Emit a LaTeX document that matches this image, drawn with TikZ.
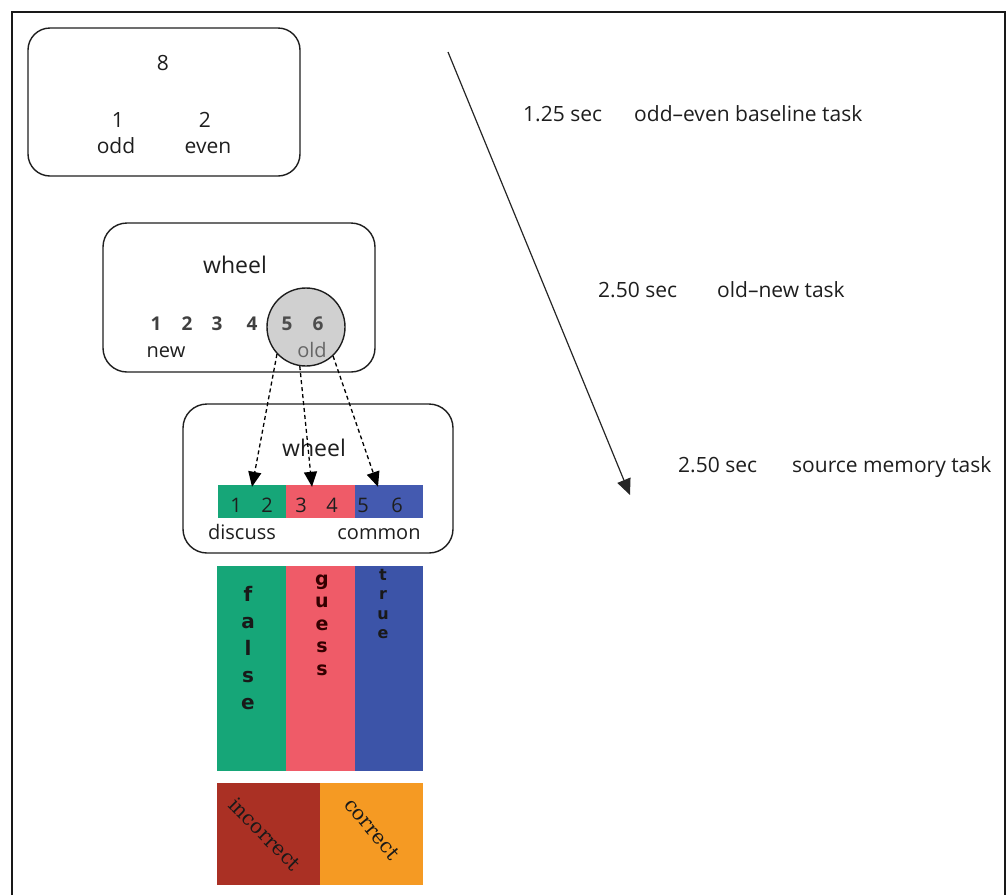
\documentclass[tikz,border=0pt]{standalone}
\usepackage{fontspec}
\setmainfont{Open Sans}
\newfontfamily\lucida{DejaVu Sans}
\newfontfamily\lserif{DejaVu Serif}
\usetikzlibrary{arrows.meta,calc}
\definecolor{cgreen}{RGB}{22,166,120}
\definecolor{cred}{RGB}{239,91,104}
\definecolor{cblue}{RGB}{68,90,176}
\definecolor{cblueT}{RGB}{60,84,168}
\definecolor{cdark}{RGB}{170,48,36}
\definecolor{corange}{RGB}{245,154,35}
\definecolor{cgray}{RGB}{208,208,208}
\definecolor{ink}{RGB}{30,30,30}
\tikzset{
  rbox/.style={draw=ink, line width=1.4pt, rounded corners=24pt, inner sep=0pt},
  txt/.style={font=\fontsize{20}{20}\selectfont, text=ink, inner sep=0pt, anchor=base},
  num/.style={font=\bfseries\fontsize{19}{19}\selectfont, text=ink!85, inner sep=0pt, anchor=base},
  rtxt/.style={font=\fontsize{21}{21}\selectfont, text=ink, inner sep=0pt, anchor=base west},
  seg/.style={draw=none, inner sep=0pt, minimum width=#1, minimum height=33pt},
  tall/.style={draw=none, inner sep=0pt, minimum width=#1, minimum height=205pt},
  sq/.style={draw=none, inner sep=0pt, minimum width=103pt, minimum height=102pt},
  vlet/.style={font=\lucida\bfseries, text=black!90, inner sep=0pt, align=center},
  rot/.style={font=\lserif\fontsize{20}{20}\selectfont, text=black!90, inner sep=0pt},
  dasharrow/.style={draw=black, line width=1.3pt, dash pattern=on 4pt off 3pt, -{Triangle[length=15pt,width=13pt]}},
}
\begin{document}
\begin{tikzpicture}[x=1pt,y=-1pt]
\useasboundingbox (0,0) rectangle (1007,895);
% frame
\draw[line width=2.2pt, black!90] (12,895) -- (12,12) -- (1005,12) -- (1005,895);

% box 1
\node[rbox, minimum width=272pt, minimum height=148pt, rounded corners=22pt] (box1) at (164,102) {};
\node[txt, font=\fontsize{21}{21}\selectfont] (eight) at (163,70) {8};
\node[txt, font=\fontsize{21}{21}\selectfont] (one) at (118,127) {1};
\node[txt, font=\fontsize{21}{21}\selectfont] (two) at (205,127) {2};
\node[txt, font=\fontsize{21}{21}\selectfont] (odd) at (116,153) {odd};
\node[txt, font=\fontsize{21}{21}\selectfont] (even) at (208,153) {even};

% box 2
\node[rbox, minimum width=272pt, minimum height=149pt] (box2) at (239,297.5) {};
\node[draw=ink, line width=1.4pt, fill=cgray, circle, minimum size=78pt, inner sep=0pt] (circ) at (306,327) {};
\node[txt, font=\fontsize{23}{23}\selectfont] (w2) at (235,273) {wheel};
\node[num] (n1) at (156,330) {1};
\node[num] (n2) at (187,330) {2};
\node[num] (n3) at (217,330) {3};
\node[num] (n4) at (252,330) {4};
\node[num, text=black!70] (n5) at (287,330) {5};
\node[num, text=black!70] (n6) at (318,330) {6};
\node[txt] (new) at (166,357) {new};
\node[txt, text=black!60] (old) at (312,357) {old};

% box 3
\node[rbox, minimum width=270pt, minimum height=149pt] (box3) at (318,478.5) {};
\node[txt, font=\fontsize{23}{23}\selectfont] (w3) at (314,456) {wheel};
\node[seg=68pt, fill=cgreen] (s1) at (252,501.5) {};
\node[seg=69pt, fill=cred] (s2) at (320.5,501.5) {};
\node[seg=68pt, fill=cblue] (s3) at (389,501.5) {};
\node[txt] (m1) at (236,512) {1};
\node[txt] (m2) at (267,512) {2};
\node[txt] (m3) at (301,512) {3};
\node[txt] (m4) at (332,512) {4};
\node[txt] (m5) at (363,512) {5};
\node[txt] (m6) at (397,512) {6};
\node[txt] (discuss) at (242,539) {discuss};
\node[txt] (common) at (379,539) {common};

% dashed arrows
\draw[dasharrow] (circ.223) -- ([yshift=-2pt]s1.north);
\draw[dasharrow] (circ.261) -- ([xshift=-8.5pt,yshift=-2pt]s2.north);
\draw[dasharrow] (circ.313) -- ([xshift=-11pt,yshift=-2pt]s3.north);

% tall bars
\node[tall=69pt, fill=cgreen] (t1) at (251.5,668.5) {};
\node[tall=69pt, fill=cred] (t2) at (320.5,668.5) {};
\node[tall=68pt, fill=cblueT] (t3) at (389,668.5) {};
\node[vlet, font=\lucida\bfseries\fontsize{20}{27}\selectfont] (false) at (248,648) {f\\a\\l\\s\\e};
\node[vlet, font=\lucida\bfseries\fontsize{19}{22.5}\selectfont, text=black!80!red] (guess) at (322,625) {g\\u\\e\\s\\s};
\node[vlet, font=\lucida\bfseries\fontsize{16}{19.3}\selectfont] (true) at (383,604) {t\\r\\u\\e};

% bottom squares
\node[sq, fill=cdark] (b1) at (268.5,834) {};
\node[sq, fill=corange] (b2) at (371.5,834) {};
\node[rot, rotate=-45] (incorrect) at (265,834) {incorrect};
\node[rot, rotate=-50] (correct) at (372,829) {correct};

% timeline
\coordinate (tstart) at (448,52);
\coordinate (tend) at (630,495);
\draw[line width=1.2pt, black!85, -{Triangle[length=16pt,width=14pt]}] (tstart) -- (tend);
\node[rtxt] (t1a) at (523,121) {1.25 sec};
\node[rtxt] (t1b) at (634,121) {odd--even baseline task};
\node[rtxt] (t2a) at (598,297) {2.50 sec};
\node[rtxt] (t2b) at (717,297) {old--new task};
\node[rtxt] (t3a) at (678,472) {2.50 sec};
\node[rtxt] (t3b) at (792,472) {source memory task};
\end{tikzpicture}
\end{document}
